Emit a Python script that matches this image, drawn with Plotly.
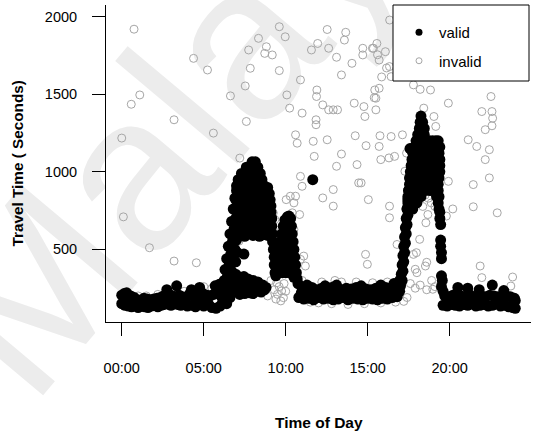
import plotly.graph_objects as go

# ---------------- data (hour of day, travel time in seconds) ----------------
night = [(0.0,150),(0.0,205),(0.15,215),(0.2,140),(0.3,220),(0.35,175),(0.4,135),(0.55,200),(0.6,130),
         (0.75,190),(0.8,145),(0.95,175),(1.0,125),(1.15,170),(1.2,135),(1.35,185),(1.4,130),(1.55,180),
         (1.6,125),(1.75,175),(1.8,135),(1.95,180),(2.0,140),(2.15,185),(2.2,130),(2.35,190),(2.4,140),
         (2.55,200),(2.6,145),(2.75,240),(2.8,150),(2.9,210),(3.0,140),(3.1,200),(3.2,150),(3.35,265),
         (3.4,145),(3.5,205),(3.6,140),(3.7,195),(3.8,150),(3.95,190),(4.0,135),(4.15,215),(4.25,240),
         (4.3,140),(4.45,200),(4.5,130),(4.65,210),(4.75,255),(4.8,150),(4.9,220),(5.0,135),(5.1,170),
         (5.2,205),(5.3,145),(5.4,200),(5.5,125),(5.6,210),(5.7,265),(5.75,120),(5.85,235),(5.95,275),
         (6.0,135),(6.05,200)]

am_rise = [(6.15,160),(6.2,230),(6.25,300),(6.3,180),(6.3,370),(6.35,260),(6.4,440),(6.4,150),(6.45,330),
           (6.5,520),(6.5,220),(6.55,400),(6.6,600),(6.6,290),(6.65,470),(6.7,680),(6.7,360),(6.75,550),
           (6.8,760),(6.8,430),(6.85,630),(6.9,830),(6.9,500),(6.95,700),(7.0,880),(7.0,560),(6.6,190),
           (6.75,240),(6.85,290),(6.95,340),(6.95,420),(7.05,480),(7.45,470)]

am_peak = [(7.95,1065),(8.15,1065),
           (7.6,1030),(7.85,1030),(8.05,1030),(8.3,1030),
           (7.3,990),(7.5,990),(7.75,990),(8.0,990),(8.25,990),(8.45,990),
           (7.1,950),(7.35,950),(7.6,950),(7.85,950),(8.1,950),(8.35,950),(8.55,950),
           (7.0,910),(7.2,910),(7.45,910),(7.7,910),(7.95,910),(8.2,910),(8.45,910),(8.7,910),(8.9,900),
           (7.05,870),(7.3,870),(7.55,870),(7.8,870),(8.05,870),(8.3,870),(8.55,870),(8.8,870),(9.0,860),
           (7.0,830),(7.2,830),(7.45,830),(7.7,830),(7.95,830),(8.2,830),(8.45,830),(8.7,830),(8.9,830),(9.05,820),
           (7.05,790),(7.3,790),(7.55,790),(7.8,790),(8.05,790),(8.3,790),(8.55,790),(8.8,790),(9.0,790),(9.1,780),
           (7.0,750),(7.2,750),(7.45,750),(7.7,750),(7.95,750),(8.2,750),(8.45,750),(8.7,750),(8.95,750),(9.1,740),
           (7.05,710),(7.3,710),(7.55,710),(7.8,710),(8.05,710),(8.3,710),(8.55,710),(8.8,710),(9.05,710),(9.15,700),
           (7.0,670),(7.2,670),(7.45,670),(7.7,670),(7.95,670),(8.2,670),(8.45,670),(8.7,670),(8.95,670),
           (7.05,630),(7.3,630),(7.55,630),(7.8,630),(8.05,630),(8.3,630),(8.55,630),(8.8,630),(9.0,630),
           (7.0,590),(7.25,595),(7.5,585),(7.75,600),(8.0,590),(8.25,600),(8.4,585),(8.65,595),(8.9,590)]

am_low = [(7.05,250),(7.15,300),(7.25,320),(7.35,290),(7.45,325),(7.55,300),(7.6,250),(7.7,310),(7.8,280),
          (7.9,240),(8.0,300),(8.1,270),(8.2,230),(8.3,290),(8.4,260),(8.5,225),(8.6,270),(8.7,240),
          (8.8,255),(7.3,240),(7.5,215),(7.8,220),(7.2,210),(8.0,215)]

mid_peak = [(9.15,650),(9.2,600),(9.2,550),(9.25,500),(9.3,450),(9.3,400),(9.35,350),(9.4,330),
            (9.45,360),(9.5,400),(9.55,450),(9.6,500),(9.65,550),(9.75,600),(9.85,650),(9.95,690),(10.1,710),(10.2,715),
            (10.3,700),(10.35,650),(10.4,600),(10.45,550),(10.5,500),(10.55,450),(10.6,400),(10.65,350),(10.7,310),(10.75,280),
            (10.0,650),(10.2,650),(9.9,600),(10.1,600),(10.25,600),(9.85,550),(10.05,550),(10.25,550),
            (9.75,500),(9.95,500),(10.15,500),(10.35,500),(9.7,450),(9.9,450),(10.1,450),(10.3,450),
            (9.65,400),(9.85,400),(10.05,400),(10.25,400),(10.45,400),(9.6,350),(9.8,350),(10.0,350),
            (10.2,350),(10.4,350),(10.5,320)]

midday = [(10.8,190),(11.1,180),(11.4,185),(11.7,175),(12.0,190),(12.3,180),(12.6,185),(12.9,175),(13.2,180),
          (13.5,190),(13.8,175),(14.1,185),(14.4,180),(14.7,175),(15.0,185),(15.3,180),(15.6,175),(15.9,185),
          (16.2,180),(16.5,190),(16.8,195),
          (10.95,220),(11.25,215),(11.55,210),(11.85,225),(12.15,215),(12.45,210),(12.75,220),(13.05,215),
          (13.35,210),(13.65,220),(13.95,215),(14.25,210),(14.55,220),(14.85,215),(15.15,210),(15.45,215),
          (15.75,220),(16.05,210),(16.35,215),(16.65,225),(16.95,230),
          (11.0,250),(11.3,245),(11.6,255),(11.9,240),(12.2,250),(12.5,245),(12.8,255),(13.1,250),(13.4,240),
          (13.7,250),(14.0,245),(14.3,255),(14.6,250),(14.9,245),(15.2,240),(15.5,250),(15.8,245),(16.1,255),
          (16.4,250),(16.7,260),(17.0,265),
          (11.3,270),(12.4,265),(13.1,270),(14.6,265),(15.8,270),(16.6,280),(11.65,950)]

pm_rise = [(16.9,260),(16.95,300),(17.0,280),(17.05,340),(17.1,300),(17.1,400),(17.15,360),(17.15,460),
           (17.2,420),(17.2,520),(17.25,480),(17.25,580),(17.3,540),(17.3,640),(17.35,600),(17.35,700),
           (17.4,660),(17.4,760),(17.45,720),(17.45,820),(17.5,780),(17.5,880),(17.58,1150)]

pm_peak = [(18.25,1360),(18.2,1320),(18.35,1320),(18.15,1280),(18.3,1280),(18.45,1280),
           (18.05,1240),(18.25,1240),(18.45,1240),
           (17.95,1200),(18.15,1200),(18.35,1200),(18.55,1200),(18.75,1200),(18.95,1200),(19.15,1200),(19.3,1200),
           (17.85,1160),(18.05,1160),(18.25,1160),(18.45,1160),(18.65,1160),(18.85,1160),(19.05,1160),(19.25,1160),(19.4,1160),
           (17.75,1120),(17.95,1120),(18.15,1120),(18.35,1120),(18.55,1120),(18.75,1120),(18.95,1120),(19.15,1120),(19.35,1120),
           (17.7,1080),(17.9,1080),(18.1,1080),(18.3,1080),(18.5,1080),(18.7,1080),(18.9,1080),(19.1,1080),(19.3,1080),(19.4,1080),
           (17.65,1040),(17.85,1040),(18.05,1040),(18.25,1040),(18.45,1040),(18.65,1040),(18.85,1040),(19.05,1040),(19.25,1040),(19.4,1040),
           (17.6,1000),(17.8,1000),(18.0,1000),(18.2,1000),(18.4,1000),(18.6,1000),(18.8,1000),(19.0,1000),(19.2,1000),(19.4,1000),
           (17.55,960),(17.75,960),(17.95,960),(18.15,960),(18.35,960),(18.55,960),(18.75,960),(18.95,960),(19.15,960),(19.35,960),
           (17.55,920),(17.7,920),(17.9,920),(18.1,920),(18.3,920),(18.5,920),(18.7,920),(18.9,920),(19.1,920),(19.3,920),
           (17.5,880),(17.7,880),(17.9,880),(18.1,880),(18.3,880),(18.5,880),(18.8,880),(19.1,880),(19.3,880),
           (17.45,840),(17.65,840),(17.85,840),(18.05,840),(18.25,840),(19.2,840),(19.35,840),
           (17.45,800),(17.6,800),(17.8,800),(18.0,800),(19.3,800),
           (17.4,760),(17.55,760),(17.75,760),(19.35,760)]

pm_fall = [(19.4,740),(19.4,700),(19.45,660),(19.45,560),(19.45,520),(19.5,480),(19.5,440),(19.5,330),
           (19.55,300),(19.5,260)]

evening = [(19.6,140),(19.85,135),(20.1,145),(20.35,140),(20.6,135),(20.85,145),(21.1,140),(21.35,150),
           (21.6,135),(21.85,140),(22.1,145),(22.35,135),(22.6,140),(22.85,150),(23.1,135),(23.35,140),
           (23.6,130),(23.85,125),
           (19.7,200),(19.95,195),(20.2,205),(20.45,190),(20.7,200),(20.95,195),(21.2,210),(21.45,195),
           (21.7,190),(21.95,200),(22.2,195),(22.45,205),(22.7,200),(22.95,195),(23.2,190),(23.45,200),
           (23.7,195),(23.95,185),
           (19.6,230),(20.5,255),(21.1,250),(21.8,240),(22.6,270),(23.3,235),(24.0,120),(24.0,170),(23.9,150)]

invalid = [(0.0,1218),(0.1,710),(0.75,1920),(0.58,1436),(1.1,1496),(1.69,511),(3.19,1336),(3.19,425),
           (4.38,1732),(4.55,414),(5.23,1657),(5.59,1250),(6.63,1490),(7.2,1089),(7.53,1554),(7.6,1325),
           (7.74,1786),(7.84,1668),(8.34,1861),(8.72,1764),(8.82,1807),(9.18,1754),(9.61,1936),(9.97,1871),
           (9.61,1653),(10.07,1496),(10.24,1411),(10.9,1593),(11.0,1379),(10.6,1239),(10.7,1185),(10.9,971),
           (11.0,907),(10.6,843),(10.5,800),(10.4,736),(10.85,725),(11.57,1786),(11.95,1828),(12.53,1918),
           (12.62,1797),(11.9,1528),(11.88,1486),(12.26,1432),(12.62,1400),(12.9,1400),(13.16,1400),
           (11.85,1336),(11.85,1304),(11.68,1197),(12.53,1207),(11.74,1100),(12.26,832),(12.9,886),
           (12.9,779),(13.1,1036),(13.4,1115),(13.1,1739),(13.4,1625),(13.66,1900),(13.58,1850),(14.04,1700),
           (14.18,1443),(14.77,1421),(14.83,1357),(15.5,1400),(14.24,1233),(14.35,1047),(14.45,929),
           (14.6,929),(14.9,1169),(15.04,821),(14.7,1797),(14.7,1754),(15.29,1797),(15.56,1828),(15.7,1721),
           (16.08,1775),(15.5,1475),(15.43,1528),(15.7,1539),(16.33,1679),(16.43,1614),(15.75,1233),
           (15.7,1164),(15.8,1079),(16.3,1090),(16.43,1228),(16.64,1100),(17.12,1239),(16.33,779),
           (16.33,704),(16.79,532),(14.87,468),(14.98,404),(17.27,1004),(17.37,1121),(17.79,1561),
           (18.2,1532),(18.83,1528),(18.42,1411),(19.04,1357),(19.15,1293),(19.92,1443),(19.92,939),
           (20.19,761),(21.13,1207),(21.65,1164),(21.44,918),(21.44,775),(21.96,1389),(22.17,1272),
           (22.52,1486),(22.58,1389),(22.62,1346),(22.58,1297),(22.42,1143),(22.17,1079),(22.42,961),
           (22.9,736),(21.86,393),(21.96,318),(23.84,322),(23.73,264),(16.34,1979),(18.0,350),(18.52,393),
           (17.79,468),(17.9,372),(15.35,1797),(15.6,1755),(16.15,1670),(15.85,1612),(15.4,1478),
           (6.95,800),(7.15,553),(9.24,736),(9.34,693),(9.55,607),(10.03,821),(10.28,843),(10.5,629),
           (10.9,436),(11.1,457),(11.2,393),
           (9.3,240),(9.5,210),(9.75,232),(9.86,189),(9.45,285),(9.7,168),(9.6,260),(9.9,280),(10.0,230),
           (9.4,180),(8.9,200),(9.1,300),
           (0.5,160),(1.5,200),(2.5,160),(3.8,230),(5.0,260),(5.5,250),(4.0,175),(6.2,260),(0.3,160),
           (1.0,200),(2.2,210),(4.9,180),(5.9,230),
           (11.5,160),(12.2,290),(12.8,150),(13.4,290),(13.8,145),(14.3,290),(14.8,150),(15.3,285),
           (15.8,155),(16.2,290),(16.7,160),(17.2,165),(11.0,300),(13.0,300),(12.0,155),
           (17.6,280),(17.9,250),(18.2,270),(18.6,240),(18.9,300),(19.1,260),(17.4,190),
           (17.97,865),(18.36,777),(18.88,800),(19.1,777),(18.67,725),(18.55,672),(19.8,715),
           (18.17,565),(17.97,479),(18.6,417),(18.97,243),(18.5,850),(18.7,830)]

x_tick_vals = [0, 5, 10, 15, 20]
x_tick_text = ["00:00", "05:00", "10:00", "15:00", "20:00"]
y_tick_vals = [500, 1000, 1500, 2000]

# ---------------- figure ----------------
valid = night + am_rise + am_peak + am_low + mid_peak + midday + pm_rise + pm_peak + pm_fall + evening
vx = [p[0] for p in valid]
vy = [p[1] for p in valid]
ix = [p[0] for p in invalid]
iy = [p[1] for p in invalid]

W, H = 536, 432
L, R, T, B = 106, 5, 5, 110
PW, PH = W - L - R, H - T - B


def px_x(px):
    return (px - L) / PW


def px_y(py):
    return (H - B - py) / PH


FONT = "Liberation Sans, Arial, sans-serif"
GRAY = "#a6a6a6"

fig = go.Figure()
fig.add_trace(go.Scatter(x=ix, y=iy, mode="markers", showlegend=False, hoverinfo="skip",
                         marker=dict(symbol="circle-open", size=8, color=GRAY, line=dict(width=1, color=GRAY))))
fig.add_trace(go.Scatter(x=vx, y=vy, mode="markers", showlegend=False, hoverinfo="skip",
                         marker=dict(symbol="circle", size=11, color="black", opacity=1,
                                     line=dict(width=0))))
# legend entries
fig.add_trace(go.Scatter(x=[None], y=[None], mode="markers", name="valid", legendgroup="a",
                         marker=dict(symbol="circle", size=7, color="black")))
fig.add_trace(go.Scatter(x=[None], y=[None], mode="markers", name="invalid", legendgroup="b",
                         marker=dict(symbol="circle-open", size=6, color=GRAY, line=dict(width=1, color=GRAY))))

fig.update_layout(
    width=W, height=H,
    margin=dict(l=L, r=R, t=T, b=B, pad=0),
    paper_bgcolor="white", plot_bgcolor="white",
    font=dict(family=FONT, size=14.5, color="black"),
    showlegend=True,
    legend=dict(x=px_x(399), y=px_y(16), xanchor="left", yanchor="top",
                bgcolor="rgba(0,0,0,0)", borderwidth=0, tracegroupgap=6,
                font=dict(family=FONT, size=15, color="black")),
    xaxis=dict(range=[-0.96, 24.96], tickvals=x_tick_vals, ticktext=x_tick_text,
               showgrid=False, zeroline=False, showline=True, linecolor="black", linewidth=1,
               ticks="outside", ticklen=13, tickwidth=1, tickcolor="black", ticklabelstandoff=20,
               tickfont=dict(family=FONT, size=14.5, color="black")),
    yaxis=dict(range=[32, 2076], tickvals=y_tick_vals,
               showgrid=False, zeroline=False, showline=True, linecolor="black", linewidth=1,
               ticks="outside", ticklen=13, tickwidth=1, tickcolor="black", ticklabelstandoff=12,
               tickfont=dict(family=FONT, size=14.5, color="black")),
    shapes=[
        # faint watermark, behind the data
        dict(type="rect", xref="paper", yref="paper", x0=px_x(175), x1=px_x(195), y0=px_y(85), y1=px_y(65),
             line=dict(width=0), fillcolor="rgba(0,0,0,0)", layer="below",
             label=dict(text="Malaya", textangle=-50, textposition="middle center",
                        font=dict(family=FONT, size=220, color="#ececec"))),
        # legend box
        dict(type="rect", xref="paper", yref="paper", x0=px_x(393), x1=px_x(529), y0=px_y(81), y1=px_y(5),
             line=dict(width=1, color="black"), fillcolor="white", layer="above"),
    ],
    annotations=[
        dict(text="Time of Day", xref="paper", yref="paper", x=px_x(319), y=px_y(422),
             xanchor="center", yanchor="middle", showarrow=False,
             font=dict(family=FONT, size=15.5, color="black", weight="bold")),
        dict(text="Travel Time ( Seconds)", xref="paper", yref="paper", x=px_x(17), y=px_y(163.5),
             xanchor="center", yanchor="middle", showarrow=False, textangle=-90,
             font=dict(family=FONT, size=15.3, color="black", weight="bold")),
    ],
)

fig.write_html("out.html")
